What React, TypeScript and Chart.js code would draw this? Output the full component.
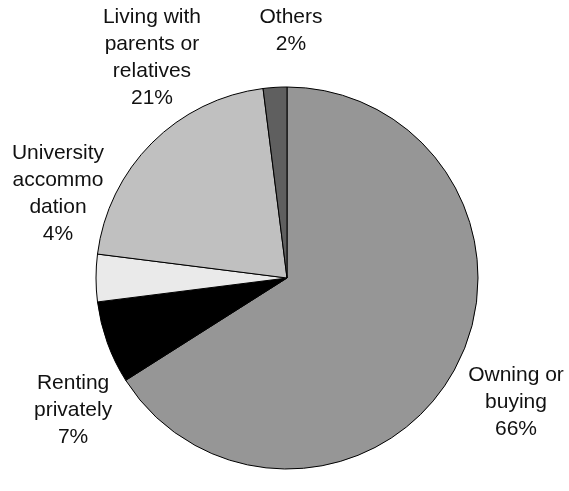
import React, { useEffect, useRef } from "react";
import { Chart, registerables } from "chart.js";

Chart.register(...registerables);

const categories = ["Owning or buying", "Renting privately", "University accommodation", "Living with parents or relatives", "Others"];
const labelLines = [
  ["Owning or", "buying"],
  ["Renting", "privately"],
  ["University", "accommo", "dation"],
  ["Living with", "parents or", "relatives"],
  ["Others"],
];
const values = [66, 7, 4, 21, 2];
const colors = ["#969696", "#000000", "#eaeaea", "#c0c0c0", "#5f5f5f"];
// label block centre, in units of the pie radius, relative to the pie centre
const labelOffsets = [
  [1.199, 0.639],
  [-1.12, 0.681],
  [-1.199, -0.45],
  [-0.707, -1.162],
  [0.021, -1.304],
];

const labelPlugin = {
  id: "outsideLabels",
  afterDraw(chart: any) {
    const meta = chart.getDatasetMeta(0);
    const ctx = chart.ctx;
    ctx.save();
    ctx.font = "21px 'Liberation Sans', Arial, sans-serif";
    ctx.fillStyle = "#111111";
    ctx.textAlign = "center";
    ctx.textBaseline = "alphabetic";
    const lh = 27;
    meta.data.forEach((arc: any, i: number) => {
      const r = arc.outerRadius;
      const cx = arc.x + labelOffsets[i][0] * r;
      const cy = arc.y + labelOffsets[i][1] * r;
      const lines = [...labelLines[i], values[i] + "%"];
      const n = lines.length;
      const first = cy - ((n - 1) * lh) / 2 + 7.5;
      lines.forEach((t, j) => ctx.fillText(t, cx, first + j * lh));
    });
    ctx.restore();
  },
};

export default function App() {
  const ref = useRef<HTMLCanvasElement>(null);
  useEffect(() => {
    document.body.style.margin = "0";
    const chart = new Chart(ref.current!, {
      type: "pie",
      data: {
        labels: categories,
        datasets: [
          {
            data: values,
            backgroundColor: colors,
            borderColor: "#000000",
            borderWidth: 1,
          },
        ],
      },
      options: {
        animation: false,
        responsive: false,
        radius: 191,
        layout: { padding: { left: 5, right: 0, top: 65, bottom: 0 } },
        plugins: {
          legend: { display: false },
          tooltip: { enabled: false },
        },
      } as any,
      plugins: [labelPlugin],
    });
    return () => chart.destroy();
  }, []);
  return (
    <div style={{ width: 569, height: 491, background: "#fff" }}>
      <canvas ref={ref} width={569} height={491} style={{ display: "block" }} />
    </div>
  );
}
